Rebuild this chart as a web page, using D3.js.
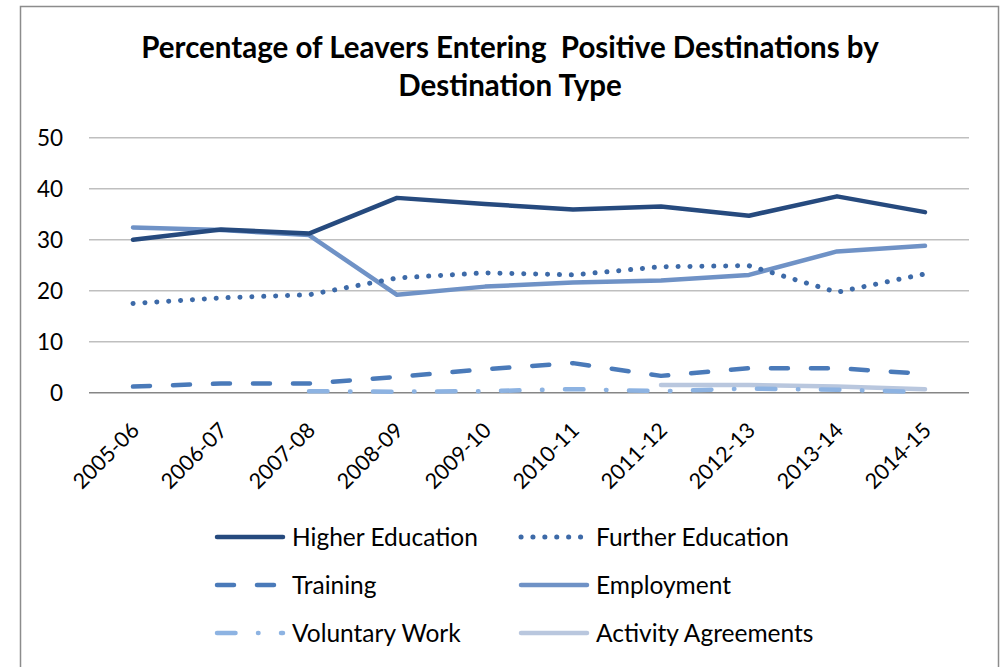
<!DOCTYPE html>
<html>
<head>
<meta charset="utf-8">
<script src="https://cdn.jsdelivr.net/npm/d3@7"></script>
<style>
  body { margin: 0; background: #fff; }
  text { font-family: Lato, "Liberation Sans", sans-serif; fill: #000; }
</style>
</head>
<body>
<svg id="chart"></svg>
<script>
// categories
var years = ["2005-06", "2006-07", "2007-08", "2008-09", "2009-10",
             "2010-11", "2011-12", "2012-13", "2013-14", "2014-15"];

// series values (percent), null where no value
var higherEducation   = [30.0, 32.0, 31.2, 38.2, 37.0, 35.9, 36.5, 34.7, 38.5, 35.4];
var furtherEducation  = [17.5, 18.6, 19.2, 22.5, 23.5, 23.1, 24.7, 24.9, 19.7, 23.3];
var training          = [1.2, 1.8, 1.8, 3.1, 4.6, 5.8, 3.3, 4.8, 4.8, 3.7];
var employment        = [32.4, 31.9, 30.9, 19.2, 20.8, 21.6, 22.0, 23.1, 27.7, 28.8];
var voluntaryWork     = [null, null, 0.3, 0.2, 0.3, 0.7, 0.3, 0.8, 0.6, 0.1];
var activityAgreements = [null, null, null, null, null, null, 1.5, 1.5, 1.2, 0.7];

var yTicks = [0, 10, 20, 30, 40, 50];

var seriesNames = ["Higher Education", "Further Education", "Training",
                   "Employment", "Voluntary Work", "Activity Agreements"];

// build the table the drawing code uses
var series = [
  { name: seriesNames[0], values: higherEducation,    color: "#264a7e", dash: null,             width: 4.5 },
  { name: seriesNames[1], values: furtherEducation,   color: "#3d6aa8", dash: "0.1 11.8",       width: 5 },
  { name: seriesNames[2], values: training,           color: "#4a7ab9", dash: "17 23",          width: 4.5 },
  { name: seriesNames[3], values: employment,         color: "#6f92c6", dash: null,             width: 4.5 },
  { name: seriesNames[4], values: voluntaryWork,      color: "#8db3e2", dash: "18.5 22.5 0.5 22.5", width: 4.5 },
  { name: seriesNames[5], values: activityAgreements, color: "#b9c7de", dash: null,             width: 4.5 }
];

var w = 1002;
var h = 667;

var svg = d3.select("#chart")
    .attr("width", w)
    .attr("height", h);

// chart border
svg.append("rect")
    .attr("x", 20.5)
    .attr("y", 6.5)
    .attr("width", 978)
    .attr("height", 700)
    .attr("fill", "#fff")
    .attr("stroke", "#8c8c8c")
    .attr("stroke-width", 1.5);

// title
var title = svg.append("text")
    .attr("text-anchor", "middle")
    .style("font-weight", "bold")
    .style("font-size", "29.5px")
    .style("white-space", "pre");
title.append("tspan")
    .attr("x", 510).attr("y", 58)
    .text("Percentage of Leavers Entering  Positive Destinations by");
title.append("tspan")
    .attr("x", 510).attr("y", 96)
    .text("Destination Type");

// scales
var xScale = d3.scalePoint()
    .domain(years)
    .range([89, 969])
    .padding(0.5);

var yScale = d3.scaleLinear()
    .domain([0, 50])
    .range([392.7, 137.7]);

// gridlines
svg.append("g")
    .selectAll("line")
    .data(yTicks.filter(function(d) { return d > 0; }))
    .enter()
    .append("line")
    .attr("x1", 89)
    .attr("x2", 969)
    .attr("y1", function(d) { return yScale(d); })
    .attr("y2", function(d) { return yScale(d); })
    .attr("stroke", "#bfbfbf")
    .attr("stroke-width", 1.5);

// Y axis labels
var yAxis = d3.axisLeft(yScale)
    .tickValues(yTicks)
    .tickSize(0)
    .tickPadding(26);

svg.append("g")
    .attr("class", "yAxis")
    .attr("transform", "translate(89,0)")
    .call(yAxis)
    .call(function(g) { g.select(".domain").remove(); })
    .selectAll("text")
    .style("font-family", "Lato, sans-serif")
    .style("font-size", "22.5px")
    .attr("dy", "0.35em");

// X axis
var xAxis = d3.axisBottom(xScale)
    .tickSize(0)
    .tickPadding(0);

var xg = svg.append("g")
    .attr("class", "xAxis")
    .attr("transform", "translate(0," + yScale(0) + ")")
    .call(xAxis);

xg.select(".domain")
    .attr("d", "M89,0H969")
    .attr("stroke", "#868686")
    .attr("stroke-width", 1.5);

xg.selectAll("text")
    .style("font-family", "Lato, sans-serif")
    .style("font-size", "21.5px")
    .attr("text-anchor", "end")
    .attr("dy", null)
    .attr("y", 0)
    .attr("transform", "translate(7,39) rotate(-45)");

// lines
var line = d3.line()
    .defined(function(d) { return d.v !== null; })
    .x(function(d) { return xScale(d.year); })
    .y(function(d) { return yScale(d.v); });

svg.append("g")
    .selectAll("path")
    .data(series.slice().reverse())
    .enter()
    .append("path")
    .attr("fill", "none")
    .attr("stroke", function(d) { return d.color; })
    .attr("stroke-width", function(d) { return d.width; })
    .attr("stroke-dasharray", function(d) { return d.dash; })
    .attr("stroke-linecap", "round")
    .attr("stroke-linejoin", "round")
    .attr("d", function(d) {
        return line(d.values.map(function(v, i) { return { year: years[i], v: v }; }));
    });

// legend
var legendX = [215, 519];
var legendY = [537, 585, 633];

var legend = svg.append("g")
    .selectAll("g")
    .data(series)
    .enter()
    .append("g")
    .attr("transform", function(d, i) {
        return "translate(" + legendX[i % 2] + "," + legendY[Math.floor(i / 2)] + ")";
    });

legend.append("line")
    .attr("x1", 2)
    .attr("x2", 68)
    .attr("y1", 0)
    .attr("y2", 0)
    .attr("stroke", function(d) { return d.color; })
    .attr("stroke-width", function(d) { return d.width; })
    .attr("stroke-dasharray", function(d) { return d.dash; })
    .attr("stroke-linecap", "round");

legend.append("text")
    .attr("x", 77)
    .attr("y", 0)
    .attr("dy", "0.35em")
    .style("font-size", "24.5px")
    .text(function(d) { return d.name; });
</script>
</body>
</html>
